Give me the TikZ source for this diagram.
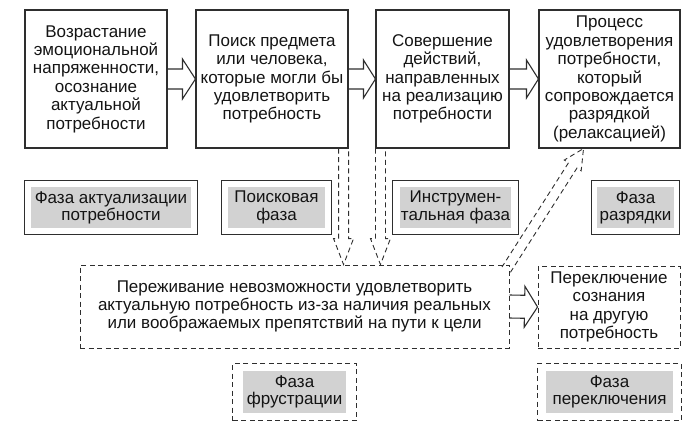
\documentclass[tikz,border=0pt]{standalone}
\usepackage{fontspec}
\setmainfont{Liberation Sans}
\usetikzlibrary{calc,fit}
\definecolor{ln}{HTML}{2E2E2E}
\definecolor{ph}{HTML}{D2D2D2}
\definecolor{tx}{HTML}{141414}
\newcommand\blockarrow[6]{%
  \coordinate (ba-h) at ($(#3)!#6!(#2)$);
  \draw[#1] ($(#2)!#4!270:(#3)$) -- ($(ba-h)!#4!270:(#3)$) -- ($(ba-h)!#5!270:(#3)$)
    -- (#3) -- ($(ba-h)!#5!90:(#3)$) -- ($(ba-h)!#4!90:(#3)$) -- ($(#2)!#4!90:(#3)$);
}
\begin{document}
\begin{tikzpicture}[x=1pt,y=-1pt,
  mainfont/.style={font=\fontsize{17pt}{18.4pt}\selectfont},
  box/.style={draw=ln, line width=1.1pt, inner sep=0pt, align=center, text=tx, mainfont},
  dashline/.style={draw=ln, line width=0.9pt, dash pattern=on 5pt off 3.5pt},
  dbox/.style={box, dashline},
  solidarrow/.style={draw=ln, line width=1.1pt, line join=miter},
  dasharrow/.style={dashline, line join=miter},
  phin/.style={fill=ph, inner sep=0pt, align=center, text=tx, font=\fontsize{17pt}{17.2pt}\selectfont},
  phframe/.style={draw=ln, line width=1.1pt, inner xsep=6pt, inner ysep=6.5pt},
  phdframe/.style={dashline, inner xsep=8pt, inner ysep=7.5pt}
]
\useasboundingbox (0,0) rectangle (692,426);

% main process boxes
\node[box, minimum width=142pt, minimum height=138pt] (b1) at (96,79)
  {Возрастание\\эмоциональной\\напряженности,\\осознание\\актуальной\\потребности};
\node[box, minimum width=152pt, minimum height=138pt] (b2) at (272,79)
  {Поиск предмета\\или человека,\\которые могли бы\\удовлетворить\\потребность};
\node[box, minimum width=133pt, minimum height=138pt] (b3) at (442.5,79)
  {Совершение\\действий,\\направленных\\на реализацию\\потребности};
\node[box, minimum width=141pt, minimum height=138pt] (b4) at (609.5,79)
  {Процесс\\удовлетворения\\потребности,\\который\\сопровождается\\разрядкой\\(релаксацией)};

% frustration and switching
\node[dbox, minimum width=429pt, minimum height=83pt] (frust) at (294.5,306.5)
  {Переживание невозможности удовлетворить\\актуальную потребность из-за наличия реальных\\или воображаемых препятствий на пути к цели};
\node[dbox, minimum width=142pt, minimum height=82pt] (sw) at (609,307)
  {Переключение\\сознания\\на другую\\потребность};

% phase labels
\node[phin, minimum width=160pt, minimum height=41pt] (p1i) at (111,207.5) {Фаза актуализации\\потребности};
\node[phframe, fit=(p1i)] (p1) {};
\node[phin, minimum width=97pt, minimum height=41pt] (p2i) at (276.5,207.5) {Поисковая\\фаза};
\node[phframe, fit=(p2i)] (p2) {};
\node[phin, minimum width=111pt, minimum height=41pt] (p3i) at (455.5,207.5) {Инструмен-\\тальная фаза};
\node[phframe, fit=(p3i), inner xsep=7.5pt] (p3) {};
\node[phin, minimum width=77pt, minimum height=41pt] (p4i) at (635.5,207.5) {Фаза\\разрядки};
\node[phframe, fit=(p4i), inner xsep=5.5pt] (p4) {};
\node[phin, minimum width=103pt, minimum height=42pt] (pfi) at (294.5,392) {Фаза\\фрустрации};
\node[phdframe, fit=(pfi), inner xsep=10pt] (pf) {};
\node[phin, minimum width=127pt, minimum height=42pt] (psi) at (609.5,392) {Фаза\\переключения};
\node[phdframe, fit=(psi)] (ps) {};

% solid block arrows
\blockarrow{solidarrow}{b1.east}{b2.west}{10pt}{20pt}{13pt}
\blockarrow{solidarrow}{b2.east}{b3.west}{10pt}{19pt}{12pt}
\blockarrow{solidarrow}{b3.east}{b4.west}{10pt}{19pt}{12pt}
\blockarrow{solidarrow}{frust.east}{sw.west}{11.5pt}{20.5pt}{13pt}

% dashed block arrows
\coordinate (d1s) at ($(b2.south east)+(-5,0)$);
\coordinate (d1t) at (d1s |- frust.north);
\blockarrow{dasharrow}{d1s}{d1t}{5pt}{10pt}{26pt}
\coordinate (d2s) at ($(b3.south west)+(5,0)$);
\coordinate (d2t) at (d2s |- frust.north);
\blockarrow{dasharrow}{d2s}{d2t}{5pt}{10pt}{26pt}
\coordinate (d3t) at ($(b4.south)+(-26,0)$);
\coordinate (d3s) at ($(frust.north east)!-6pt!(d3t)$);
\blockarrow{dasharrow}{d3s}{d3t}{5pt}{10pt}{20pt}
\end{tikzpicture}
\end{document}
